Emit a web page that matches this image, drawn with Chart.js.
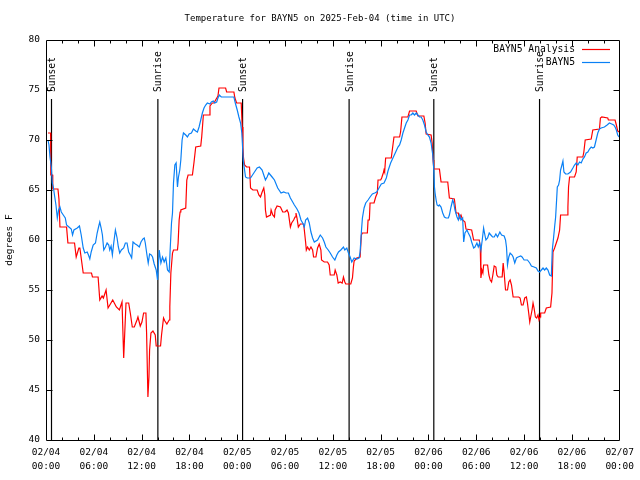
<!DOCTYPE html>
<html>
<head>
<meta charset="utf-8">
<script src="https://cdn.jsdelivr.net/npm/chart.js@4/dist/chart.umd.min.js"></script>
<style>
html,body{margin:0;padding:0;background:#fff;}
#c{display:block;}
</style>
</head>
<body>
<canvas id="c" width="640" height="480"></canvas>
<script>
// ---------------- DATA ----------------
const chartTitle = 'Temperature for BAYN5 on 2025-Feb-04 (time in UTC)';
const yAxisTitle = 'degrees F';
const seriesNames = ['BAYN5 Analysis', 'BAYN5'];
const xTickLabels = [
  ['02/04','00:00'],['02/04','06:00'],['02/04','12:00'],['02/04','18:00'],
  ['02/05','00:00'],['02/05','06:00'],['02/05','12:00'],['02/05','18:00'],
  ['02/06','00:00'],['02/06','06:00'],['02/06','12:00'],['02/06','18:00'],
  ['02/07','00:00']
];
const yTickValues = [40,45,50,55,60,65,70,75,80];
// hours since 02/04 00:00 UTC
const sunHours  = [0.69, 14.04, 24.67, 38.04, 48.67, 61.94];
const sunLabels = ['Sunset','Sunrise','Sunset','Sunrise','Sunset','Sunrise'];

const redHours = [0.25,0.58,0.6,0.83,0.85,1.5,1.625,1.75,2.58,2.75,3.58,3.79,4.125,4.25,4.67,5.71,5.83,6.54,6.75,7.04,7.2,7.54,7.79,8.375,8.83,9.21,9.54,9.75,10.04,10.375,10.58,10.83,11.08,11.42,11.54,11.83,12.04,12.25,12.54,12.625,12.79,12.92,13.0,13.17,13.42,13.71,13.83,14.375,14.5,14.75,14.92,15.17,15.46,15.54,15.67,15.875,16.0,16.5,16.58,16.71,16.83,16.92,17.54,17.67,17.83,18.375,18.58,18.79,19.42,19.54,19.75,20.46,20.58,20.875,21.08,21.29,21.58,21.71,22.54,22.67,23.58,23.71,23.92,24.5,24.625,24.71,24.79,24.92,25.17,25.54,25.67,25.96,26.5,26.71,26.92,27.125,27.33,27.46,27.54,27.67,28.17,28.25,28.46,28.67,28.75,29.0,29.42,29.71,30.0,30.25,30.42,30.67,30.83,31.08,31.25,31.375,31.5,31.67,31.92,32.33,32.42,32.58,32.67,32.83,33.04,33.25,33.46,33.58,33.875,34.08,34.29,34.5,34.58,34.92,35.33,35.54,35.67,36.17,36.29,36.5,36.67,36.92,37.17,37.33,37.5,37.625,38.25,38.46,38.58,38.67,39.0,39.42,39.58,39.71,40.33,40.42,40.58,40.67,41.17,41.375,41.58,41.67,42.0,42.125,42.33,42.42,42.5,42.625,43.33,43.46,43.67,44.375,44.5,44.67,45.42,45.625,46.46,46.67,47.42,47.58,47.71,48.33,48.46,48.58,48.67,49.375,49.58,50.42,50.625,51.25,51.46,51.75,51.875,52.08,52.29,52.58,52.71,53.42,53.67,54.375,54.5,54.58,54.71,54.83,54.92,55.42,55.58,55.75,55.92,56.08,56.25,56.46,56.58,56.75,57.25,57.375,57.5,57.67,57.92,58.08,58.25,58.42,58.625,59.33,59.5,59.67,59.875,60.08,60.29,60.42,60.58,60.71,60.83,61.0,61.125,61.25,61.42,61.58,61.75,61.875,62.0,62.08,62.58,62.79,63.33,63.5,63.625,63.83,64.04,64.25,64.46,64.58,65.42,65.5,65.58,65.71,66.33,66.54,66.67,67.375,67.5,67.67,68.42,68.625,69.46,69.58,69.75,70.5,70.58,71.42,71.58,71.75,71.96];
const redTemps = [70.7,70.7,66.5,66.5,65.1,65.1,64.1,61.3,61.3,59.7,59.7,58.3,59.2,59.2,56.7,56.7,56.3,56.3,54.0,54.4,54.2,55.0,53.2,54.0,53.3,53.0,53.8,48.2,53.7,53.7,52.7,51.3,51.3,52.0,52.3,51.4,51.8,52.7,52.7,50.7,44.3,46.3,49.0,50.7,50.9,50.5,49.4,49.4,50.5,52.2,51.9,51.6,52.0,53.3,56.7,58.7,59.0,59.0,59.7,62.0,62.8,63.0,63.2,66.0,66.5,66.5,67.8,69.3,69.4,70.3,72.5,72.5,73.4,73.7,73.7,74.0,74.4,75.2,75.2,74.8,74.8,74.2,73.7,73.7,71.3,69.3,68.2,67.5,67.3,67.3,65.2,65.0,65.0,64.5,64.3,64.8,65.2,64.5,63.0,62.3,62.5,63.0,62.5,62.3,63.0,63.4,63.3,62.8,62.8,63.0,62.7,61.3,61.7,62.0,62.3,62.7,62.2,61.3,61.6,61.6,61.0,59.8,59.0,59.3,59.0,59.3,59.0,58.3,58.3,59.2,59.6,59.0,58.0,57.8,57.8,57.5,56.5,56.5,57.0,56.5,55.7,55.8,55.7,56.3,55.8,55.6,55.6,56.2,57.3,57.9,58.2,58.3,60.5,60.7,60.7,62.0,62.0,63.7,63.7,64.3,64.7,66.0,66.0,66.2,66.7,67.0,66.8,68.2,68.2,69.0,70.3,70.3,70.8,72.3,72.3,72.9,72.9,72.4,72.4,71.7,70.6,70.5,69.7,68.0,67.1,67.1,65.8,65.8,64.2,64.1,62.7,62.7,62.2,62.5,62.0,61.8,61.1,61.0,60.0,60.0,59.3,56.2,57.0,56.7,57.5,57.5,56.5,56.0,55.8,56.5,57.4,57.3,56.5,56.3,56.3,57.7,56.7,55.0,55.0,55.8,56.0,55.5,54.3,54.3,54.2,53.5,53.5,54.2,54.3,53.7,52.7,51.8,52.3,53.0,53.7,53.2,52.3,52.2,52.5,52.0,52.3,52.7,52.7,53.2,53.3,54.7,58.8,59.2,59.7,60.2,61.0,62.5,62.5,63.3,65.3,66.3,66.3,66.8,68.3,68.3,68.8,70.0,70.1,71.0,71.1,72.2,72.3,72.2,72.0,72.0,71.5,70.9,70.8];

const blueHours = [0.25,0.375,0.5,0.67,0.79,0.92,1.08,1.25,1.42,1.58,1.75,1.92,2.17,2.42,2.58,2.875,3.17,3.33,3.5,3.92,4.2,4.42,4.67,4.875,5.17,5.33,5.5,5.67,5.92,6.21,6.42,6.625,6.75,6.92,7.08,7.25,7.46,7.67,7.875,8.0,8.17,8.33,8.5,8.71,8.92,9.08,9.25,9.46,9.75,9.96,10.17,10.375,10.58,10.75,10.92,11.21,11.42,11.71,11.92,12.17,12.33,12.46,12.67,12.83,13.0,13.21,13.375,13.58,13.83,14.0,14.21,14.42,14.625,14.83,15.04,15.25,15.46,15.58,15.75,15.875,16.0,16.17,16.33,16.5,16.625,16.79,16.92,17.08,17.25,17.54,17.75,17.96,18.25,18.5,18.79,19.0,19.21,19.42,19.625,19.83,20.04,20.25,20.58,20.75,21.0,21.17,21.42,21.58,21.75,22.0,22.33,22.75,23.17,23.58,23.79,24.0,24.21,24.42,24.58,24.67,24.75,24.92,25.04,25.25,25.67,26.08,26.5,26.79,27.125,27.33,27.54,27.75,27.96,28.17,28.375,28.67,29.08,29.5,29.83,30.125,30.42,30.67,30.96,31.17,31.5,31.75,32.0,32.21,32.42,32.58,32.83,33.04,33.25,33.46,33.67,34.08,34.42,34.71,34.92,35.125,35.42,35.67,35.96,36.25,36.5,36.71,37.0,37.33,37.5,37.75,37.96,38.17,38.375,38.67,39.0,39.29,39.42,39.58,39.71,39.92,40.125,40.42,40.67,40.96,41.25,41.5,41.79,42.08,42.42,42.71,42.92,43.25,43.54,43.83,44.17,44.375,44.58,44.79,45.0,45.21,45.42,45.625,45.83,46.04,46.25,46.46,46.67,46.875,47.08,47.29,47.5,47.71,47.92,48.125,48.33,48.54,48.67,48.75,48.83,48.96,49.08,49.25,49.375,49.58,49.79,50.0,50.21,50.5,50.625,50.83,51.04,51.17,51.33,51.58,51.75,51.92,52.08,52.29,52.42,52.58,52.83,53.0,53.25,53.42,53.67,53.83,54.08,54.25,54.42,54.58,54.75,54.92,55.08,55.21,55.42,55.625,55.83,56.04,56.25,56.46,56.67,56.96,57.17,57.5,57.67,57.79,57.92,58.08,58.25,58.5,58.625,58.83,59.04,59.25,59.58,59.75,60.0,60.42,60.71,60.92,61.25,61.54,61.75,61.96,62.17,62.375,62.58,62.79,63.0,63.21,63.42,63.54,63.71,63.83,63.96,64.08,64.17,64.33,64.46,64.58,64.75,64.875,65.0,65.21,65.5,65.83,66.125,66.33,66.54,66.75,66.96,67.17,67.375,67.58,67.79,68.0,68.21,68.42,68.625,68.83,69.04,69.25,69.46,69.67,70.08,70.42,70.71,71.0,71.25,71.42,71.58,71.75,71.92];
const blueTemps = [70.0,69.5,68.3,67.3,65.7,65.3,64.4,63.5,62.2,63.0,63.3,62.8,62.5,62.2,61.5,61.3,61.1,60.5,61.0,61.2,61.4,60.5,59.2,58.7,58.8,58.5,58.1,58.8,59.5,59.7,60.7,61.4,61.8,61.2,60.5,59.0,59.3,59.7,59.5,59.0,59.4,58.5,59.7,61.0,60.2,59.3,58.7,59.0,59.2,59.7,59.7,58.8,58.5,58.2,59.8,59.6,59.5,59.3,59.8,60.1,60.2,59.7,58.5,57.7,58.6,58.5,58.3,57.6,57.0,56.0,59.0,57.7,58.3,57.8,58.2,57.0,56.8,59.0,61.7,62.7,65.7,67.5,67.7,65.3,66.3,67.0,68.0,70.0,70.7,70.5,70.3,70.6,70.7,71.1,70.9,70.8,71.3,72.0,72.7,73.2,73.5,73.7,73.6,73.8,73.9,73.7,73.8,74.2,74.5,74.3,74.3,74.3,74.3,74.3,73.6,73.0,72.3,71.7,70.7,69.3,68.0,67.0,66.3,66.2,66.2,66.7,67.2,67.3,67.0,66.5,66.0,66.3,66.7,66.5,66.3,66.0,65.2,64.7,64.8,64.7,64.7,64.2,63.8,63.5,63.1,62.7,62.0,61.7,61.3,62.0,62.2,61.7,60.8,60.2,59.8,60.0,60.5,60.2,59.8,59.3,59.0,58.7,58.3,58.0,58.5,58.8,59.0,59.3,59.0,59.2,58.7,58.3,57.8,58.2,58.1,58.2,58.8,60.8,62.2,63.2,63.7,64.0,64.3,64.6,64.7,64.8,65.2,65.6,65.7,66.2,66.9,67.7,68.2,68.7,69.3,69.5,70.0,70.7,71.2,71.7,72.0,72.5,72.5,72.7,72.5,72.7,72.5,72.3,72.3,72.0,71.5,70.8,70.5,70.3,69.7,68.5,67.0,65.3,64.7,64.0,63.5,63.4,63.5,63.3,62.7,62.3,62.2,62.2,62.5,63.3,64.0,63.7,63.0,62.3,62.0,62.5,62.0,62.2,59.8,60.7,61.0,60.7,60.3,59.8,59.2,59.3,59.7,59.3,59.7,59.0,60.0,61.2,60.5,60.0,60.2,60.7,60.5,60.3,60.3,60.6,60.3,60.8,60.5,60.4,60.0,59.3,57.5,58.3,58.7,58.5,58.3,57.7,58.2,58.3,58.4,58.3,58.0,58.0,57.7,57.4,57.3,57.2,56.9,56.8,57.0,57.2,57.0,57.2,57.0,56.5,56.4,59.0,60.3,61.3,62.3,64.0,65.3,65.5,66.0,67.0,67.5,67.9,66.8,66.6,66.6,66.8,67.2,67.5,67.7,67.5,67.8,67.7,68.1,68.3,68.7,68.8,69.1,69.3,69.2,69.3,70.0,70.7,71.1,71.2,71.3,71.5,71.7,71.6,71.5,71.3,71.0,70.5,70.3];

// ---------------- STYLE ----------------
const FONT = "'DejaVu Sans Mono', 'Liberation Mono', monospace";
const RED = '#ff0000';
const BLUE = '#0a80f5';
const sunLineTop = 74.1;

const toXY = (hs, ts) => hs.map((h, i) => ({x: h, y: ts[i]}));

const datasets = [
  {label: seriesNames[0], data: toXY(redHours, redTemps), borderColor: RED, borderWidth: 1.2, pointRadius: 0, tension: 0, order: 2},
  {label: seriesNames[1], data: toXY(blueHours, blueTemps), borderColor: BLUE, borderWidth: 1.2, pointRadius: 0, tension: 0, order: 1}
];
sunHours.forEach((h) => {
  datasets.push({label: '_sun', data: [{x: h, y: sunLineTop}, {x: h, y: 40}], borderColor: '#000', borderWidth: 1.2, pointRadius: 0, order: 3});
});

const gpPlugin = {
  id: 'gp',
  afterDraw(chart) {
    const ctx = chart.ctx, ca = chart.chartArea;
    const xs = chart.scales.x, ys = chart.scales.y;
    const L = Math.round(ca.left) + 0.5, R = Math.round(ca.right) - 0.5;
    const T = Math.round(ca.top) + 0.5, B = Math.round(ca.bottom) + 0.5;
    ctx.save();
    ctx.strokeStyle = '#000';
    ctx.lineWidth = 1;
    ctx.beginPath();
    ctx.rect(L, T, R - L, B - T);
    // x ticks: major 6h, minor 2h
    for (let h = 2; h < 72; h += 2) {
      const px = Math.round(xs.getPixelForValue(h)) + 0.5;
      const len = (h % 6 === 0) ? 6 : 3;
      ctx.moveTo(px, B); ctx.lineTo(px, B - len);
      ctx.moveTo(px, T); ctx.lineTo(px, T + len);
    }
    yTickValues.forEach(v => {
      if (v === 40 || v === 80) return;
      const py = Math.round(ys.getPixelForValue(v)) + 0.5;
      ctx.moveTo(L, py); ctx.lineTo(L + 6, py);
      ctx.moveTo(R, py); ctx.lineTo(R - 6, py);
    });
    ctx.stroke();

    ctx.fillStyle = '#000';
    // title
    ctx.font = '9px ' + FONT;
    ctx.textAlign = 'center';
    ctx.textBaseline = 'middle';
    ctx.fillText(chartTitle, 320, 19);

    // sun labels
    ctx.font = '9.7px ' + FONT;
    sunHours.forEach((h, i) => {
      const px = xs.getPixelForValue(h);
      const py = ys.getPixelForValue(sunLineTop) - 7;
      ctx.save();
      ctx.translate(px + 1, py);
      ctx.rotate(-Math.PI / 2);
      ctx.textAlign = 'left';
      ctx.textBaseline = 'middle';
      ctx.fillText(sunLabels[i], 0, 0);
      ctx.restore();
    });

    // legend
    ctx.font = '9.7px ' + FONT;
    ctx.textAlign = 'right';
    ctx.textBaseline = 'middle';
    const ly = [49.5, 62.5];
    const lc = [RED, BLUE];
    seriesNames.forEach((n, i) => {
      ctx.fillStyle = '#000';
      ctx.fillText(n, 575, ly[i]);
      ctx.strokeStyle = lc[i];
      ctx.lineWidth = 1.2;
      ctx.beginPath();
      ctx.moveTo(582, ly[i]); ctx.lineTo(610, ly[i]);
      ctx.stroke();
    });
    ctx.restore();
  }
};

new Chart(document.getElementById('c'), {
  type: 'line',
  data: {datasets},
  options: {
    responsive: false,
    animation: false,
    devicePixelRatio: 1,
    layout: {padding: {top: 40, right: 18, left: 0, bottom: 0}},
    plugins: {legend: {display: false}, tooltip: {enabled: false}, title: {display: false}},
    scales: {
      x: {
        type: 'linear', min: 0, max: 72,
        grid: {display: false, drawTicks: false},
        border: {display: false},
        afterFit: (s) => { s.height = 40; },
        afterBuildTicks: (s) => { s.ticks = xTickLabels.map((_, i) => ({value: i * 6})); },
        ticks: {
          autoSkip: false, maxRotation: 0, minRotation: 0, padding: 6,
          color: '#000', font: {family: FONT, size: 9.5, lineHeight: 1.45},
          callback: (v) => xTickLabels[Math.round(v / 6)]
        }
      },
      y: {
        type: 'linear', min: 40, max: 80,
        grid: {display: false, drawTicks: false},
        border: {display: false},
        afterFit: (s) => { s.width = 46; },
        afterBuildTicks: (s) => { s.ticks = yTickValues.map(v => ({value: v})); },
        title: {display: true, text: yAxisTitle, color: '#000', font: {family: FONT, size: 9.5}, padding: {top: 4, bottom: 0}},
        ticks: {
          padding: 6, color: '#000', font: {family: FONT, size: 9.5},
          callback: (v) => String(v)
        }
      }
    }
  },
  plugins: [gpPlugin]
});
</script>
</body>
</html>
